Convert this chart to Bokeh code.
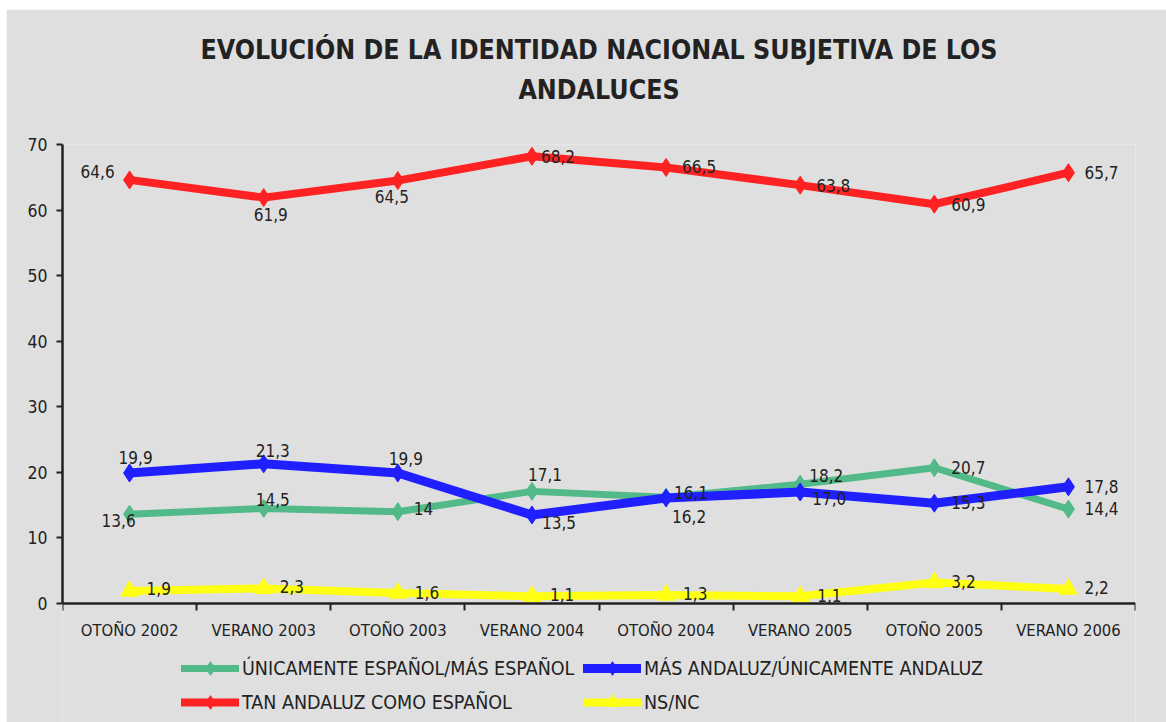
from bokeh.plotting import figure
from bokeh.models import ColumnDataSource, FixedTicker, Legend, LegendItem, Title, Range1d
from bokeh.embed import file_html
from bokeh.resources import INLINE
from bokeh.core.properties import value

# ---------------- data ----------------
periods = ["OTOÑO 2002", "VERANO 2003", "OTOÑO 2003", "VERANO 2004",
           "OTOÑO 2004", "VERANO 2005", "OTOÑO 2005", "VERANO 2006"]
espanol = [13.6, 14.5, 14.0, 17.1, 16.2, 18.2, 20.7, 14.4]
espanol_txt = ["13,6", "14,5", "14", "17,1", "16,2", "18,2", "20,7", "14,4"]
andaluz = [19.9, 21.3, 19.9, 13.5, 16.1, 17.0, 15.3, 17.8]
andaluz_txt = ["19,9", "21,3", "19,9", "13,5", "16,1", "17,0", "15,3", "17,8"]
tan = [64.6, 61.9, 64.5, 68.2, 66.5, 63.8, 60.9, 65.7]
tan_txt = ["64,6", "61,9", "64,5", "68,2", "66,5", "63,8", "60,9", "65,7"]
nsnc = [1.9, 2.3, 1.6, 1.1, 1.3, 1.1, 3.2, 2.2]
nsnc_txt = ["1,9", "2,3", "1,6", "1,1", "1,3", "1,1", "3,2", "2,2"]
y_ticks = [0, 10, 20, 30, 40, 50, 60, 70]
y_max = 70

series_names = ["ÚNICAMENTE ESPAÑOL/MÁS ESPAÑOL", "MÁS ANDALUZ/ÚNICAMENTE ANDALUZ",
                "TAN ANDALUZ COMO ESPAÑOL", "NS/NC"]
title_lines = ["EVOLUCIÓN DE LA IDENTIDAD NACIONAL SUBJETIVA DE LOS", "ANDALUCES"]

# ---------------- styles / layout ----------------
FONT = "Liberation Sans Narrow, Arial Narrow, DejaVu Sans Condensed, sans-serif"
BG = "#dfdfdf"
TXT = "#222222"
colors = ["#52ba88", "#1f1fff", "#ff2222", "#ffff14"]
widths = [7, 9, 8, 8]
markers = ["diamond", "diamond", "diamond", "triangle"]
msizes = [18, 18, 18, 18]
# label offsets (left edge offset, vertical offset) in pixels
lab_dx = [
    [-28, -8, 16, -4, 6, 9, 17, 16],
    [-11, -8, -9, 10, 8, 12, 17, 16],
    [-49, -10, -23, 9, 16, 16, 17, 16],
    [17, 16, 17, 18, 17, 17, 17, 16],
]
lab_dy = [
    [6, -9, -3, -17, 19, -9, 0, -1],
    [-16, -13, -15, 8, -5, 6, -1, 0],
    [-8, 17, 16, 0, -1, 0, 0, 0],
    [-3, -2, -1, -2, -1, -1, -1, -2],
]

PAGE_W, PAGE_H = 1166, 722
OFF_X, OFF_Y = 6, 9               # white strip left / top of the picture
TOP, ZERO_Y = 144, 603            # page rows of the 70 and 0 levels
below_units = y_max * (PAGE_H - ZERO_Y) / (ZERO_Y - TOP)   # range extension below 0

xs = [i + 0.5 for i in range(len(periods))]

p = figure(width=PAGE_W - OFF_X, height=PAGE_H - OFF_Y, margin=(OFF_Y, 0, 0, OFF_X),
           output_backend="svg", toolbar_location=None,
           x_range=Range1d(0, len(periods)), y_range=Range1d(-below_units, y_max),
           min_border_left=62 - OFF_X, min_border_right=31, min_border_top=TOP - OFF_Y,
           min_border_bottom=0)
p.background_fill_color = BG
p.border_fill_color = BG
p.outline_line_color = None
p.xgrid.visible = False
p.ygrid.visible = False

# titles: spacer closest to the plot area, then the two lines
p.add_layout(Title(text=" ", text_font_size="26.5px", text_font=FONT, standoff=3), "above")
p.add_layout(Title(text=title_lines[1], align="center", text_font=FONT, text_font_size="26.5px",
                   text_font_style="bold", text_color=TXT, standoff=7, offset=-8), "above")
p.add_layout(Title(text=title_lines[0], align="center", text_font=FONT, text_font_size="26.5px",
                   text_font_style="bold", text_color=TXT, standoff=7, offset=-5), "above")

# axes
xa = p.xaxis[0]
xa.fixed_location = 0
xa.ticker = FixedTicker(ticks=xs, minor_ticks=list(range(len(periods) + 1)))
xa.major_label_overrides = {x: lab for x, lab in zip(xs, periods)}
xa.major_tick_out = 0
xa.major_tick_in = 0
xa.minor_tick_out = 7
xa.minor_tick_in = 0
xa.minor_tick_line_color = TXT
xa.minor_tick_line_width = 2
xa.axis_line_width = 2.5
xa.axis_line_color = TXT
xa.major_label_text_font = FONT
xa.major_label_text_font_size = "16.5px"
xa.major_label_text_color = TXT
xa.major_label_standoff = 10

ya = p.yaxis[0]
ya.bounds = (0, y_max)
ya.ticker = FixedTicker(ticks=y_ticks, minor_ticks=[])
ya.major_tick_out = 6
ya.major_tick_in = 0
ya.major_tick_line_width = 2
ya.major_tick_line_color = TXT
ya.minor_tick_line_color = None
ya.axis_line_width = 2.5
ya.axis_line_color = TXT
ya.major_label_text_font = FONT
ya.major_label_text_font_size = "17.5px"
ya.major_label_text_color = TXT
ya.major_label_standoff = 9

values = [espanol, andaluz, tan, nsnc]
texts = [espanol_txt, andaluz_txt, tan_txt, nsnc_txt]
items = []
for k in range(4):
    src = ColumnDataSource(dict(x=xs, y=values[k]))
    lr = p.line("x", "y", source=src, line_color=colors[k], line_width=widths[k],
                line_join="round", line_cap="round")
    sr = p.scatter("x", "y", source=src, marker=markers[k], size=msizes[k],
                   fill_color=colors[k], line_color=colors[k])
    items.append(LegendItem(label=series_names[k], renderers=[lr, sr]))

for k in range(4):
    src = ColumnDataSource(dict(x=xs, y=values[k], t=texts[k], dx=lab_dx[k], dy=lab_dy[k]))
    p.text("x", "y", text="t", source=src, x_offset="dx", y_offset="dy",
           text_align="left", text_baseline="middle", text_font=value(FONT),
           text_font_size="17px", text_color=TXT)

legend = Legend(items=items, orientation="horizontal", ncols=2, location=(119, 3),
                glyph_width=58, glyph_height=34, label_standoff=3, label_width=341,
                spacing=0, padding=0, margin=0, border_line_color=None,
                background_fill_alpha=0, label_text_font=FONT,
                label_text_font_size="19.5px", label_text_color=TXT)
p.add_layout(legend, "center")

open("out.html", "w").write(file_html(p, INLINE))
